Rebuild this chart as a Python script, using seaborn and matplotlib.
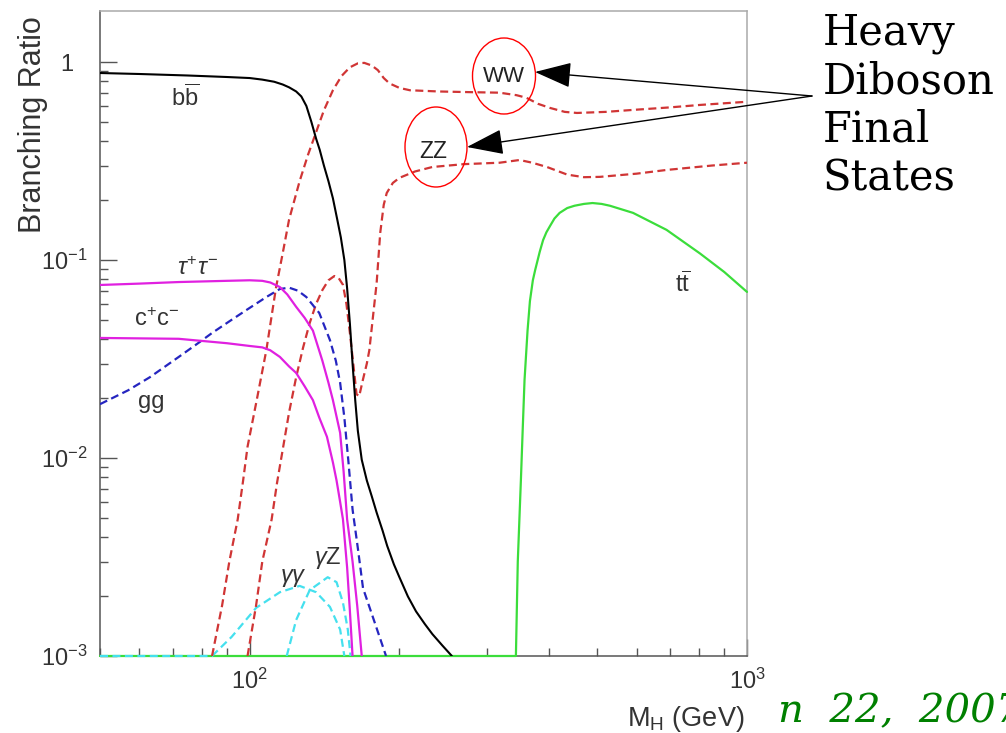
import matplotlib
matplotlib.use("Agg")
import matplotlib.pyplot as plt
from matplotlib.patches import Ellipse
import seaborn as sns

# ── data (M_H in GeV, branching ratio) ──────────────────────────────────────
bb_m = [50, 60, 75, 90, 100, 106, 112, 116.5, 120, 124, 127, 130, 133, 136, 138.3, 141, 144,
        147, 150, 152.5, 155, 157, 159, 161, 163, 165, 168, 172, 176, 180, 185, 189, 195,
        200, 208, 216, 225, 233, 244, 255]
bb_br = [0.88, 0.87, 0.855, 0.84, 0.83, 0.815, 0.795, 0.77, 0.745, 0.71, 0.67, 0.6, 0.5,
         0.41, 0.36, 0.3, 0.25, 0.205, 0.16, 0.13, 0.1, 0.072, 0.048, 0.03, 0.0196, 0.0137,
         0.0098, 0.0077, 0.0064, 0.0053, 0.0043, 0.0036, 0.0029, 0.0025, 0.002, 0.00168,
         0.00145, 0.00129, 0.00113, 0.001]

ww_m = [84, 88, 91, 94.6, 97, 99, 103.3, 108, 113, 116.5, 120, 126, 131, 135, 141, 147, 153,
        159, 165, 170, 176, 181, 186, 191, 200, 210, 240, 273, 318, 344, 360, 380, 402, 430,
        455, 520, 590, 700, 804, 1000]
ww_br = [0.001, 0.0018, 0.003, 0.0049, 0.0077, 0.0114, 0.0196, 0.035, 0.073, 0.108, 0.16,
         0.25, 0.34, 0.42, 0.57, 0.72, 0.85, 0.94, 0.985, 0.99, 0.96, 0.91, 0.83, 0.78, 0.74,
         0.72, 0.71, 0.705, 0.70, 0.68, 0.66, 0.615, 0.586, 0.56, 0.553, 0.56, 0.573, 0.59,
         0.607, 0.63]

zz_m = [99, 103, 106, 110.7, 113.5, 116.5, 120, 124, 128, 132, 136, 140, 144, 148, 151, 154,
        156.5, 159, 161.5, 164, 166, 169, 172, 174, 177, 180, 183, 186, 188.6, 194, 200, 215,
        233, 270, 318, 349, 370, 396, 435, 470, 506, 600, 689, 850, 1000]
zz_br = [0.001, 0.0018, 0.003, 0.0049, 0.0075, 0.011, 0.017, 0.0256, 0.036, 0.048, 0.06,
         0.0705, 0.079, 0.083, 0.081, 0.075, 0.06, 0.043, 0.03, 0.021, 0.0205, 0.025, 0.03,
         0.035, 0.052, 0.0765, 0.137, 0.19, 0.218, 0.245, 0.26, 0.28, 0.295, 0.305, 0.31,
         0.32, 0.31, 0.295, 0.27, 0.262, 0.263, 0.273, 0.285, 0.30, 0.31]

tau_m = [50, 60, 72, 90, 100, 106, 110, 115, 119, 124, 129, 134, 140, 144, 147, 152, 154.5,
         157, 161, 164.5, 168]
tau_br = [0.0748, 0.076, 0.0774, 0.0785, 0.079, 0.0785, 0.077, 0.073, 0.067, 0.058, 0.051,
          0.044, 0.031, 0.024, 0.0196, 0.0134, 0.0085, 0.0049, 0.003, 0.0018, 0.001]

cc_m = [50, 72, 90, 100, 106, 110, 115, 120, 124, 129, 134, 138, 143, 147, 149.5, 152, 154,
        157, 159, 161]
cc_br = [0.0404, 0.040, 0.038, 0.0368, 0.0362, 0.035, 0.0324, 0.029, 0.0269, 0.023, 0.0196,
         0.016, 0.0128, 0.0095, 0.0077, 0.006, 0.0049, 0.0028, 0.0017, 0.001]

gg_m = [50, 57, 63, 72, 79.3, 84, 91, 98.6, 108, 115, 120, 125, 130, 138, 145, 149, 152, 155,
        158, 161, 165, 169, 178, 188]
gg_br = [0.0187, 0.022, 0.0256, 0.0324, 0.0385, 0.0428, 0.049, 0.056, 0.065, 0.0714, 0.0725,
         0.07, 0.065, 0.054, 0.0394, 0.031, 0.024, 0.016, 0.0095, 0.0055, 0.0035, 0.0022,
         0.0015, 0.001]

gamgam_m = [50, 84, 92, 103, 115, 126, 136, 145, 152, 155]
gamgam_br = [0.001, 0.001, 0.00125, 0.00175, 0.0021, 0.00226, 0.0021, 0.00177, 0.00136, 0.001]

gamz_m = [118.7, 124, 132, 143.5, 149.5, 154, 157.5, 159.5]
gamz_br = [0.001, 0.00152, 0.00215, 0.0025, 0.00236, 0.00186, 0.00136, 0.001]

tt_m = [50, 343, 346, 351, 354, 357, 362, 366, 371, 375, 383, 389, 395, 402, 410, 420, 435,
        450, 470, 489, 510, 530, 590, 689, 804, 900, 1000]
tt_br = [0.001, 0.001, 0.003, 0.0077, 0.014, 0.0248, 0.044, 0.062, 0.079, 0.089, 0.11, 0.126,
         0.138, 0.149, 0.162, 0.173, 0.183, 0.188, 0.192, 0.194, 0.192, 0.188, 0.173, 0.142,
         0.108, 0.087, 0.069]

y_ticks = [1e-3, 1e-2, 1e-1, 1]
y_ticklabels = [r"$10^{-3}$", r"$10^{-2}$", r"$10^{-1}$", "1  "]
x_ticks = [100, 1000]
x_ticklabels = [r"$10^{2}$", r"$10^{3}$"]

# ── style ────────────────────────────────────────────────────────────────────
sns.set_theme(style="white")
plt.rcParams["font.family"] = ["Liberation Sans", "DejaVu Sans"]
plt.rcParams["mathtext.fontset"] = "custom"
plt.rcParams["mathtext.rm"] = "Liberation Sans"
plt.rcParams["mathtext.it"] = "Liberation Sans:italic"
plt.rcParams["mathtext.bf"] = "Liberation Sans:bold"

TXT = "#333333"
RED = "#d03535"
MAG = "#e020e0"
BLUE = "#2525c0"
CYAN = "#45e0ee"
GREEN = "#3bdd3b"
DASH = (0, (3.6, 2.0))

W, H = 1006, 733
fig = plt.figure(figsize=(W / 100, H / 100), dpi=100)
ax = fig.add_axes([100 / W, 1 - 656 / H, 647 / W, 645 / H])
ax.set_xscale("log")
ax.set_yscale("log")


def curve(m, br, color, ls="-", lw=1.6, clip=True):
    sns.lineplot(x=m, y=br, ax=ax, color=color, linestyle=ls, linewidth=lw,
                 estimator=None, sort=False, zorder=3, clip_on=clip)


curve(tt_m, tt_br, GREEN, clip=False)
curve(gamgam_m, gamgam_br, CYAN, DASH, clip=False)
curve(gamz_m, gamz_br, CYAN, DASH)
curve(ww_m, ww_br, RED, DASH)
curve(zz_m, zz_br, RED, DASH)
curve(gg_m, gg_br, BLUE, DASH)
curve(cc_m, cc_br, MAG)
curve(tau_m, tau_br, MAG)
curve(bb_m, bb_br, "black", lw=1.5)

ax.set_xlim(50, 1000)
ax.set_ylim(1e-3, 1.81)

# axes frame: dark left/bottom, light top/right
for side in ("left", "bottom"):
    ax.spines[side].set_color("#555555")
    ax.spines[side].set_linewidth(1.1)
for side in ("top", "right"):
    ax.spines[side].set_color("#aaaaaa")
    ax.spines[side].set_linewidth(1.1)

ax.set_yticks(y_ticks)
ax.set_yticklabels(y_ticklabels)
ax.set_xticks(x_ticks)
ax.set_xticklabels(x_ticklabels)
ax.minorticks_on()
ax.tick_params(which="both", direction="in", colors="#555555", labelcolor=TXT,
               left=True, bottom=True, top=False, right=False)
ax.tick_params(which="major", length=12, width=1, labelsize=17, pad=9)
ax.tick_params(which="minor", length=6, width=1)
ax.tick_params(axis="x", which="minor", labelbottom=False)
ax.tick_params(axis="y", which="minor", labelleft=False)

ax.set_ylabel("Branching Ratio", fontsize=22, color=TXT)
ax.yaxis.set_label_coords((33 - 100) / 647, 1 - (125 - 11) / 645)
ax.yaxis.label.set_va("center")
ax.set_xlabel(r"M$_\mathrm{H}$ (GeV)", fontsize=19.5, color=TXT, ha="right", va="center")
ax.xaxis.set_label_coords((745 - 100) / 647, (656 - 719) / 645)

# curve labels
lbl = dict(fontsize=17, color=TXT, ha="center", va="baseline", zorder=4)
ax.text(74.3, 0.60, r"$\mathrm{b\overline{b}}$", **lbl)
ax.text(78.6, 0.084, r"$\tau^{+}\tau^{-}$", **lbl)
ax.text(65, 0.0464, r"$\mathrm{c^{+}c^{-}}$", **lbl)
ax.text(63.5, 0.0178, "gg", **lbl)
ax.text(122.6, 0.00237, r"$\gamma\gamma$", **lbl)
ax.text(143.6, 0.00292, r"$\gamma\mathrm{Z}$", **lbl)
ax.text(743, 0.0688, r"$\mathrm{t\overline{t}}$", **lbl)
ax.text(324, 0.79, "WW", fontsize=16, color="#222222", ha="center", va="baseline")
ax.text(234, 0.327, "ZZ", fontsize=16.5, color="#222222", ha="center", va="baseline")

# red circles around WW / ZZ
for cx, cy, w, h in [(504, 76, 63, 76), (436, 147, 62, 80)]:
    ax.add_patch(Ellipse(((cx - 100) / 647, 1 - (cy - 11) / 645), w / 647, h / 645,
                         transform=ax.transAxes, fill=False, edgecolor="red", lw=1.0,
                         clip_on=False, zorder=5))

# annotation on the right
for i, word in enumerate(["Heavy", "Diboson", "Final", "States"]):
    fig.text(823 / W, 1 - (45 + 48.5 * i) / H, word, fontsize=30, family="DejaVu Serif",
             color="black", ha="left", va="baseline")

for tip in [(535, 72), (467, 147)]:
    ax.annotate("", xy=(tip[0], H - tip[1]), xycoords="figure pixels",
                xytext=(812, H - 96), textcoords="figure pixels",
                arrowprops=dict(arrowstyle="-|>,head_length=1.15,head_width=0.4",
                                mutation_scale=20, lw=1.0, color="black",
                                shrinkA=0, shrinkB=0),
                annotation_clip=False, zorder=6)

# date footer, running off the right edge as in the slide
fig.text(778 / W, 1 - 722 / H, "n  22,  2007", fontsize=29, family="DejaVu Serif",
         style="italic", color="#008000", ha="left", va="baseline")

fig.savefig("out.png", dpi=100, facecolor="white")
